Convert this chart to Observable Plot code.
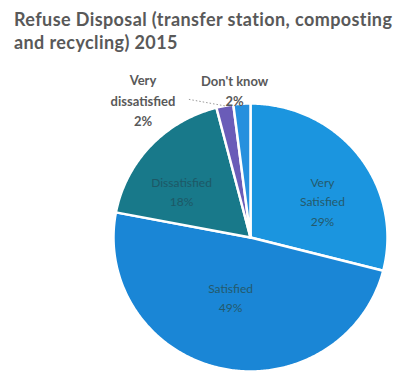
<!DOCTYPE html>
<html>
<head>
<meta charset="utf-8">
<script src="https://cdn.jsdelivr.net/npm/d3@7"></script>
<script src="https://cdn.jsdelivr.net/npm/@observablehq/plot@0.6"></script>
<style>
  html, body { margin: 0; padding: 0; background: #ffffff; }
  #title {
    box-sizing: border-box; height: 56px; padding: 8px 0 0 14px;
    font-family: Lato, "Open Sans", sans-serif; font-weight: bold;
    font-size: 18px; letter-spacing: 0.4px; line-height: 23px; color: #595959;
    white-space: nowrap;
  }
</style>
</head>
<body>
<div id="title">Refuse Disposal (transfer station, composting<br>and recycling) 2015</div>
<div id="chart"></div>
<script>
const categories = ["Very Satisfied", "Satisfied", "Dissatisfied", "Very dissatisfied", "Don't know"];
const values = [29, 49, 18, 2, 2];
const labels = ["Very\nSatisfied\n29%", "Satisfied\n49%", "Dissatisfied\n18%", "Very\ndissatisfied\n2%", "Don't know\n2%"];
const colors = ["#1b95df", "#1a86d6", "#18798a", "#6a5cb8", "#2690de"];

const data = categories.map((c, i) => ({cat: c, value: values[i], label: labels[i]}));
const arcs = d3.pie().value(d => d.value).sort(null).startAngle(0).endAngle(2 * Math.PI)(data);

// polygon points for each slice (angle measured clockwise from 12 o'clock)
const pts = [];
arcs.forEach(a => {
  pts.push({cat: a.data.cat, x: 0, y: 0});
  const n = Math.max(4, Math.ceil((a.endAngle - a.startAngle) / 0.01));
  for (let k = 0; k <= n; k++) {
    const t = a.startAngle + (a.endAngle - a.startAngle) * k / n;
    pts.push({cat: a.data.cat, x: Math.sin(t), y: Math.cos(t)});
  }
  pts.push({cat: a.data.cat, x: 0, y: 0});
});

const mid = a => (a.startAngle + a.endAngle) / 2;
const at = (a, r) => ({cat: a.data.cat, label: a.data.label, x: r * Math.sin(mid(a)), y: r * Math.cos(mid(a))});
const inner = arcs.map(a => at(a, 0.6));
const outer = arcs.map(a => at(a, 1.15));
const edge = arcs.map(a => at(a, 1.0));

const innerStyle = {x: "x", y: "y", text: "label", fill: "#245a6c", fontSize: 12, lineHeight: 1.6,
  fontFamily: "Lato, sans-serif", textAnchor: "middle"};
const outerStyle = {x: "x", y: "y", text: "label", fill: "#595959", fontSize: 13, lineHeight: 1.55,
  fontFamily: "Lato, sans-serif", fontWeight: "bold", textAnchor: "middle", lineAnchor: "top"};

const vd = edge.filter(d => d.cat === "Very dissatisfied");

const chart = Plot.plot({
  width: 411, height: 316,
  marginLeft: 113, marginRight: 24, marginTop: 47, marginBottom: 1,
  x: {domain: [-1, 1], axis: null},
  y: {domain: [-1, 1], axis: null},
  color: {domain: categories, range: colors},
  style: {background: "#ffffff"},
  marks: [
    Plot.line(pts, {x: "x", y: "y", z: "cat", fill: "cat", stroke: "#ffffff", strokeWidth: 2.5, strokeLinejoin: "round"}),
    Plot.link(vd, {x1: "x", y1: "y", x2: d => d.x - 0.27, y2: d => d.y + 0.05, stroke: "#9a9a9a", strokeWidth: 1, strokeDasharray: "1.5,2"}),
    Plot.text(inner.filter(d => d.cat === "Very Satisfied"), {...innerStyle, dx: 7, dy: 12}),
    Plot.text(inner.filter(d => d.cat === "Satisfied"), {...innerStyle, dx: -2, dy: -20}),
    Plot.text(inner.filter(d => d.cat === "Dissatisfied"), {...innerStyle, fill: "#1d5866", dx: -9, dy: 8}),
    Plot.text(outer.filter(d => d.cat === "Very dissatisfied"), {...outerStyle, dx: -78, dy: -15}),
    Plot.text(outer.filter(d => d.cat === "Don't know"), {...outerStyle, dx: -6, dy: -12})
  ]
});
document.getElementById("chart").appendChild(chart);
</script>
</body>
</html>
